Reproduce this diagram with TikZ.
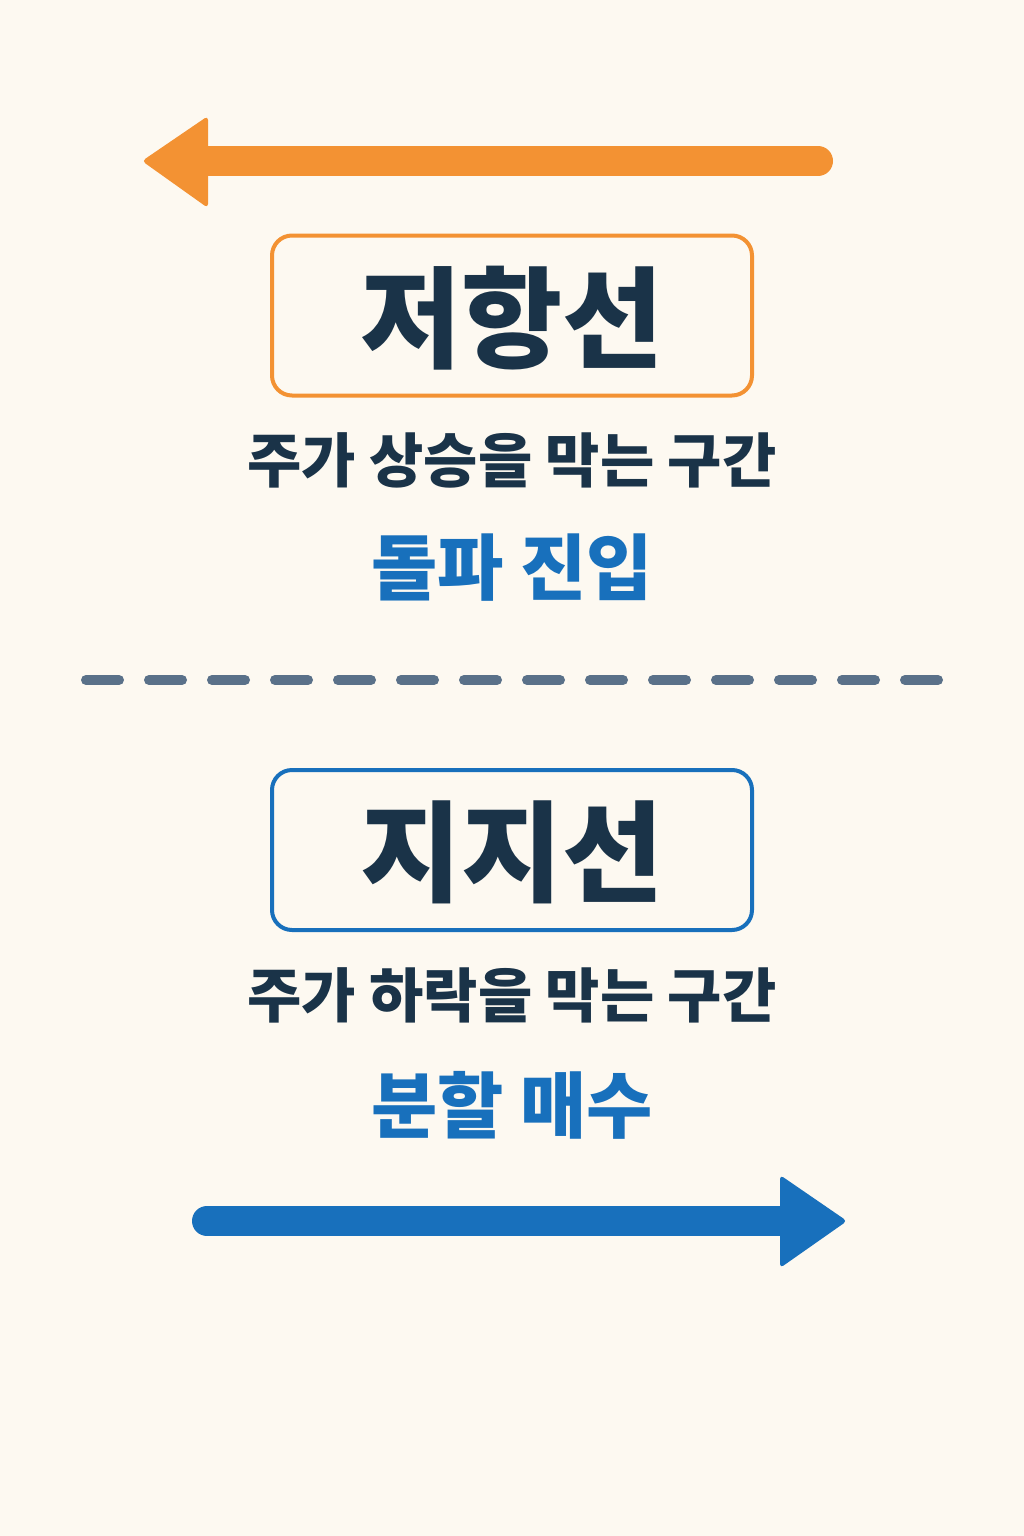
\documentclass[tikz,border=0pt]{standalone}
\usepackage{fontspec}
\setmainfont{Noto Sans CJK KR}
\definecolor{bg}{HTML}{FDF9F1}
\definecolor{org}{HTML}{F39233}
\definecolor{blu}{HTML}{1870BC}
\definecolor{navy}{HTML}{1A3348}
\definecolor{dashcol}{HTML}{5A7189}
\begin{document}
\begin{tikzpicture}[x=1pt,y=-1pt,
  box/.style={draw,line width=4pt,rounded corners=20pt,minimum width=480pt,minimum height=160pt},
  title/.style={font=\fontsize{110}{120}\selectfont\bfseries,text=navy},
  sub/.style={font=\fontsize{59}{70}\selectfont\bfseries,text=navy},
  act/.style={font=\fontsize{72}{84}\selectfont\bfseries,text=blu}]
\fill[bg] (0,0) rectangle (1024,1536);
\useasboundingbox (0,0) rectangle (1024,1536);
% orange arrow
\coordinate (oa1) at (818,161); \coordinate (oa2) at (205,161);
\draw[org,line width=30pt,line cap=round] (oa1) -- (oa2);
\fill[org,rounded corners=4pt] (142,161) -- (208,116) -- (208,208) -- cycle;
\node[box,draw=org] (b1) at (512,315.5) {};
\node[title] (t1) at (512,318) {저항선};
\node[sub] (s1) at (512,460) {주가 상승을 막는 구간};
\node[act] (a1) at (512,568) {돌파 진입};
\coordinate (d1) at (86,680); \coordinate (d2) at (942,680);
\draw[dashcol,line width=10pt,line cap=round,dash pattern=on 33pt off 30pt] (d1) -- (d2);
\node[box,draw=blu] (b2) at (512,850) {};
\node[title] (t2) at (512,852) {지지선};
\node[sub] (s2) at (512,995) {주가 하락을 막는 구간};
\node[act] (a2) at (512,1105) {분할 매수};
\coordinate (ba1) at (207,1221); \coordinate (ba2) at (790,1221);
\draw[blu,line width=30pt,line cap=round] (ba1) -- (ba2);
\fill[blu,rounded corners=4pt] (847,1221) -- (780,1175) -- (780,1268) -- cycle;
\end{tikzpicture}
\end{document}
